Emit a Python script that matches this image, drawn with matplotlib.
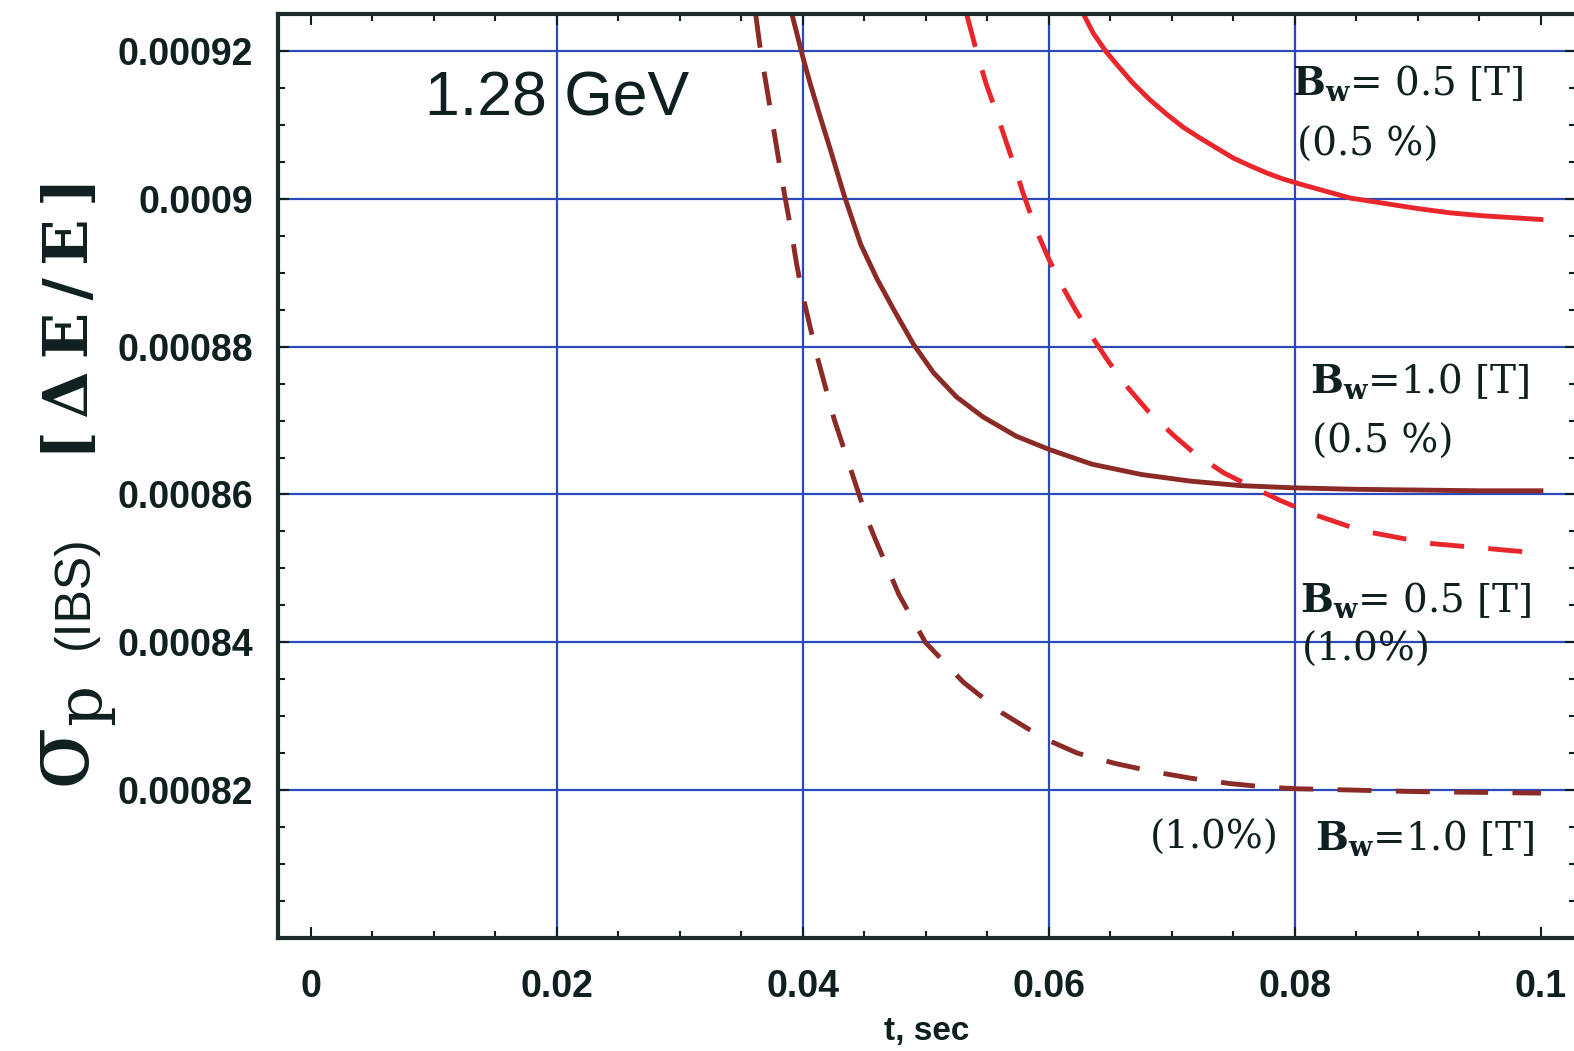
import numpy as np
import matplotlib.pyplot as plt
from matplotlib.ticker import MultipleLocator

plt.rcParams['mathtext.fontset'] = 'dejavuserif'

# t [s] and sigma_p for each wiggler setting
t_r05_05 = [0.0628, 0.0636, 0.0646, 0.0655, 0.0668, 0.0682, 0.0696, 0.0709,
            0.0723, 0.0737, 0.0750, 0.0763, 0.0777, 0.0790, 0.0804, 0.0845,
            0.0872, 0.0899, 0.0926, 0.0953, 0.1000]
s_r05_05 = [0.000925, 0.0009224, 0.000920, 0.0009182, 0.0009157, 0.0009134,
            0.0009114, 0.0009097, 0.0009082, 0.0009068, 0.0009055, 0.0009045,
            0.0009035, 0.0009027, 0.000902, 0.0009001, 0.0008994, 0.0008987,
            0.0008981, 0.0008977, 0.0008972]

t_r05_10 = [0.0533, 0.0541, 0.0549, 0.0557, 0.0565, 0.0573, 0.05785, 0.05893,
            0.0600, 0.06107, 0.06215, 0.06376, 0.06483, 0.06644, 0.06805,
            0.0702, 0.07181, 0.07423, 0.07691, 0.07879, 0.08136, 0.08542,
            0.09084, 0.09897, 0.1000]
s_r05_10 = [0.000925, 0.000920, 0.0009155, 0.0009118, 0.0009078, 0.0009039,
            0.0009010, 0.0008959, 0.0008918, 0.0008882, 0.000885, 0.0008807,
            0.000878, 0.0008744, 0.0008713, 0.0008679, 0.0008656, 0.0008629,
            0.0008607, 0.0008592, 0.0008574, 0.0008551, 0.0008534, 0.0008522,
            0.0008521]

t_b10_05 = [0.0391, 0.0400, 0.0406, 0.0414, 0.0422, 0.04336, 0.0447, 0.04604,
            0.04738, 0.04899, 0.0506, 0.05248, 0.05463, 0.05732, 0.0600,
            0.06349, 0.06752, 0.07154, 0.07557, 0.07987, 0.0850, 0.0900,
            0.0950, 0.1000]
s_b10_05 = [0.000925, 0.0009191, 0.0009155, 0.0009111, 0.0009068, 0.0009004,
            0.0008938, 0.0008891, 0.000885, 0.0008803, 0.0008765, 0.0008732,
            0.0008705, 0.0008679, 0.0008661, 0.0008641, 0.0008627, 0.0008618,
            0.0008612, 0.0008609, 0.0008607, 0.0008606, 0.0008605, 0.0008605]

t_b10_10 = [0.03615, 0.03655, 0.03736, 0.03817, 0.03852, 0.03906, 0.0395,
            0.0400, 0.04059, 0.04121, 0.04255, 0.04416, 0.04523, 0.04594,
            0.04779, 0.04995, 0.05304, 0.05614, 0.0583, 0.0600, 0.06232,
            0.06541, 0.0685, 0.07159, 0.07468, 0.07777, 0.0800, 0.0900, 0.1000]
s_b10_10 = [0.000925, 0.000920, 0.000912, 0.0009038, 0.0009004, 0.0008955,
            0.000891, 0.0008868, 0.0008826, 0.0008783, 0.0008701, 0.000862,
            0.0008566, 0.0008537, 0.0008465, 0.000840, 0.0008346, 0.0008305,
            0.0008283, 0.0008267, 0.000825, 0.0008236, 0.0008225, 0.0008216,
            0.0008209, 0.0008204, 0.0008202, 0.0008198, 0.0008196]

x_ticks = [0, 0.02, 0.04, 0.06, 0.08, 0.1]
x_ticklabels = ['0', '0.02', '0.04', '0.06', '0.08', '0.1']
y_ticks = [0.00082, 0.00084, 0.00086, 0.00088, 0.0009, 0.00092]
y_ticklabels = ['0.00082', '0.00084', '0.00086', '0.00088', '0.0009', '0.00092']

red = '#e8262b'
brown = '#8b2a26'
ink = '#102020'
gridc = '#2b49b8'

fig = plt.figure(figsize=(15.74, 10.51), dpi=100)
ax = fig.add_axes([278 / 1574, 113 / 1051, 1298 / 1574, 924 / 1051])

# grid only on the inner major ticks
for xv in x_ticks[1:-1]:
    ax.axvline(xv, color=gridc, lw=1.6, zorder=0)
for yv in y_ticks:
    ax.axhline(yv, color=gridc, lw=1.6, zorder=0)

dash = (0, (7, 5))
ax.plot(t_r05_05, s_r05_05, color=red, lw=3.5)
ax.plot(t_r05_10, s_r05_10, color=red, lw=3.5, ls=dash)
ax.plot(t_b10_05, s_b10_05, color=brown, lw=3.5)
ax.plot(t_b10_10, s_b10_10, color=brown, lw=3.5, ls=dash)

ax.set_xlim(-0.002683, 0.10285)
ax.set_ylim(0.0008, 0.000925)
ax.set_xticks(x_ticks)
ax.set_xticklabels(x_ticklabels)
ax.set_yticks(y_ticks)
ax.set_yticklabels(y_ticklabels)
ax.xaxis.set_minor_locator(MultipleLocator(0.005))
ax.yaxis.set_minor_locator(MultipleLocator(0.000005))

ax.tick_params(which='both', direction='in', top=True, right=True, color=ink, width=1.5)
ax.tick_params(which='major', length=8)
ax.tick_params(which='minor', length=5)
ax.tick_params(axis='x', pad=22)
ax.tick_params(axis='y', pad=18)
for lab in ax.get_xticklabels() + ax.get_yticklabels():
    lab.set_fontfamily('Liberation Sans')
    lab.set_fontsize(27)
    lab.set_color(ink)
    lab.set_fontweight('bold')
for sp in ax.spines.values():
    sp.set_linewidth(3)
    sp.set_color('#1c2c2c')

ax.set_xlabel('t, sec', fontfamily='Liberation Sans', fontsize=24, fontweight='bold',
              color=ink, labelpad=8)

# y label built from three pieces sharing one baseline
ylab = dict(rotation=90, rotation_mode='anchor', ha='center', va='baseline', color=ink)
fig.text(90 / 1574, 1 - 738 / 1051, r'$\mathrm{\sigma}_{\mathrm{p}}$', fontsize=66, **ylab)
fig.text(88 / 1574, 1 - 592 / 1051, '(IBS)', fontsize=36,
         fontfamily='Liberation Sans', **ylab)
fig.text(88 / 1574, 1 - 318 / 1051, '[\u2009Δ\u2009E\u2009/\u2009E\u2009]', fontsize=44,
         fontfamily='DejaVu Serif', fontweight='bold', **ylab)

ax.text(0.00927, 0.0009135, '1.28 GeV', fontfamily='Liberation Sans', fontsize=45,
        color=ink, va='center')

lbl = dict(fontfamily='DejaVu Serif', fontsize=28, color=ink, va='center')
bw05 = r'$\mathbf{B}_{\mathbf{w}}$= 0.5 [T]'
bw10 = r'$\mathbf{B}_{\mathbf{w}}$=1.0 [T]'
ax.text(0.0798, 0.0009157, bw05, **lbl)
ax.text(0.0802, 0.0009072, '(0.5 %)', **lbl)
ax.text(0.0812, 0.0008754, bw10, **lbl)
ax.text(0.0814, 0.000867, '(0.5 %)', **lbl)
ax.text(0.0804, 0.0008457, bw05, **lbl)
ax.text(0.0806, 0.0008389, '(1.0%)', **lbl)
ax.text(0.0682, 0.0008135, '(1.0%)', **lbl)
ax.text(0.0816, 0.0008135, bw10, **lbl)

fig.savefig('out.png', dpi=100)
